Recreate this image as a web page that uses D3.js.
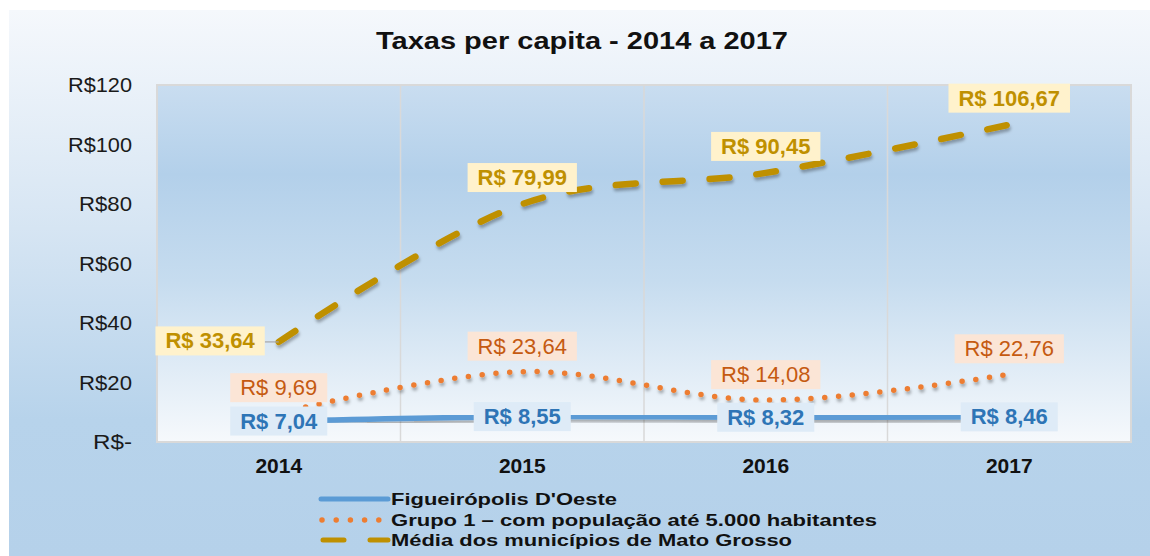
<!DOCTYPE html>
<html>
<head>
<meta charset="utf-8">
<script src="https://cdn.jsdelivr.net/npm/d3@7"></script>
<style>
  body { margin: 0; background: #fff; }
  svg { display: block; font-family: "Liberation Sans", Arial, sans-serif; }
</style>
</head>
<body>
<div id="chart"></div>
<script>
const years = ["2014", "2015", "2016", "2017"];
const figueiropolis = [7.04, 8.55, 8.32, 8.46];
const grupo1 = [9.69, 23.64, 14.08, 22.76];
const mediaMT = [33.64, 79.99, 90.45, 106.67];
const yTicks = [0, 20, 40, 60, 80, 100, 120];
const legendNames = [
  "Figueirópolis D'Oeste",
  "Grupo 1 – com população até 5.000 habitantes",
  "Média dos municípios de Mato Grosso",
];

const w = 1150;
const h = 556;
const plot = { left: 157, right: 1131, top: 85, bottom: 442 };

const svg = d3.select("#chart").append("svg").attr("width", w).attr("height", h);
const defs = svg.append("defs");

const bgGrad = defs.append("linearGradient").attr("id", "bg").attr("x1", 0).attr("y1", 0).attr("x2", 0).attr("y2", 1);
bgGrad.append("stop").attr("offset", "0%").attr("stop-color", "#f5f8fc");
bgGrad.append("stop").attr("offset", "40%").attr("stop-color", "#d6e5f3");
bgGrad.append("stop").attr("offset", "75%").attr("stop-color", "#b7d3eb");
bgGrad.append("stop").attr("offset", "100%").attr("stop-color", "#b5d1ea");

const plotGrad = defs.append("linearGradient").attr("id", "plotbg").attr("x1", 0).attr("y1", 0).attr("x2", 0).attr("y2", 1);
plotGrad.append("stop").attr("offset", "0%").attr("stop-color", "#c9ddf0");
plotGrad.append("stop").attr("offset", "25%").attr("stop-color", "#b3d0ea");
plotGrad.append("stop").attr("offset", "55%").attr("stop-color", "#c6dcef");
plotGrad.append("stop").attr("offset", "100%").attr("stop-color", "#f6f9fc");

const shadow = defs.append("filter").attr("id", "shadow").attr("x", "-5%").attr("y", "-20%").attr("width", "110%").attr("height", "160%");
shadow.append("feDropShadow").attr("dx", 1).attr("dy", 3).attr("stdDeviation", 1.5)
  .attr("flood-color", "#000").attr("flood-opacity", 0.3);

// backgrounds
svg.append("rect").attr("x", 9).attr("y", 10).attr("width", w - 9).attr("height", h - 10).attr("fill", "url(#bg)");
svg.append("rect")
  .attr("x", plot.left).attr("y", plot.top)
  .attr("width", plot.right - plot.left).attr("height", plot.bottom - plot.top)
  .attr("fill", "url(#plotbg)").attr("stroke", "#d9d9d9").attr("stroke-width", 2);

// title
svg.append("text")
  .attr("x", 582).attr("y", 49)
  .attr("text-anchor", "middle")
  .attr("font-size", 23).attr("font-weight", "bold")
  .attr("textLength", 412).attr("lengthAdjust", "spacingAndGlyphs")
  .attr("fill", "#111")
  .text("Taxas per capita - 2014 a 2017");

const x = d3.scaleBand().domain(years).range([plot.left, plot.right]);
const y = d3.scaleLinear().domain([0, 120]).range([plot.bottom, plot.top]);
const cx = (d, i) => x(years[i]) + x.bandwidth() / 2;

// vertical grid lines between categories
svg.append("g")
  .selectAll("line")
  .data(years.slice(1))
  .enter()
  .append("line")
  .attr("x1", (d) => x(d)).attr("x2", (d) => x(d))
  .attr("y1", plot.top).attr("y2", plot.bottom)
  .attr("stroke", "#d9d9d9").attr("stroke-width", 1.5);

// axes
const yAxis = d3.axisLeft(y).tickValues(yTicks).tickSize(0).tickPadding(0)
  .tickFormat((d) => (d === 0 ? "R$-" : "R$" + d));
const gy = svg.append("g").attr("transform", "translate(132,0)").call(yAxis);
gy.select(".domain").remove();
gy.selectAll("text").attr("font-size", 21).attr("fill", "#1a1a1a")
  .attr("font-family", "Liberation Sans, Arial, sans-serif")
  .attr("textLength", (d) => (d === 0 ? 39 : d >= 100 ? 64 : 53)).attr("lengthAdjust", "spacingAndGlyphs");

const xAxis = d3.axisBottom(x).tickSize(0).tickPadding(0);
const gx = svg.append("g").attr("transform", "translate(0," + plot.bottom + ")").call(xAxis);
gx.select(".domain").remove();
gx.selectAll("text").attr("font-size", 21).attr("font-weight", "bold").attr("fill", "#111")
  .attr("dy", null).attr("y", 31).attr("font-family", "Liberation Sans, Arial, sans-serif");

// lines
const line = d3.line().x(cx).y((d) => y(d)).curve(d3.curveCardinal.tension(0));

const series = [
  { name: legendNames[0], values: figueiropolis, color: "#5b9bd5", width: 5.5, dash: null, cap: "butt" },
  { name: legendNames[1], values: grupo1, color: "#ed7d31", width: 5.5, dash: "0,13.8", cap: "round" },
  { name: legendNames[2], values: mediaMT, color: "#bf9000", width: 6.5, dash: "20,27", cap: "round" },
];

const lineLayer = svg.append("g");
const leaderLayer = svg.append("g");
const labelLayer = svg.append("g");

series.forEach((s) => {
  lineLayer.append("path")
    .datum(s.values)
    .attr("d", line)
    .attr("fill", "none")
    .attr("stroke", s.color)
    .attr("stroke-width", s.width)
    .attr("stroke-linecap", s.cap)
    .attr("stroke-dasharray", s.dash)
    .attr("filter", "url(#shadow)");
});

// data labels
const fmt = (v) => "R$ " + v.toFixed(2).replace(".", ",");
const labelStyles = [
  { values: figueiropolis, text: "#2e75b6", bg: "#deebf7", bold: true, place: "center" },
  { values: grupo1, text: "#c55a11", bg: "#fbe5d6", bold: false, place: "above" },
  { values: mediaMT, text: "#bf9000", bg: "#fff2cc", bold: true, place: "above" },
];

labelStyles.forEach((ls, si) => {
  ls.values.forEach((v, i) => {
    const px = cx(v, i);
    const py = y(v);
    const g = labelLayer.append("g");
    const rect = g.append("rect").attr("fill", ls.bg);
    const t = g.append("text")
      .attr("font-size", 22)
      .attr("font-weight", ls.bold ? "bold" : "normal")
      .attr("fill", ls.text)
      .attr("text-anchor", "middle")
      .text(fmt(v));
    const tw = t.node().getComputedTextLength();
    const bw = tw + 20;
    const bh = 29;
    let bx = px - bw / 2;
    let by;
    if (ls.place === "center") by = py - bh / 2;
    else by = py - (si === 2 ? 12 : 11) - bh;
    // first point of the state average sits to the left with a leader line
    if (si === 2 && i === 0) {
      bx = px - 14 - bw;
      by = py - bh / 2 - 1;
      leaderLayer.append("line")
        .attr("x1", bx + bw).attr("x2", px).attr("y1", py).attr("y2", py)
        .attr("stroke", "#a6a6a6").attr("stroke-width", 1.2);
    }
    rect.attr("x", bx).attr("y", by).attr("width", bw).attr("height", bh);
    t.attr("x", bx + bw / 2).attr("y", by + 22);
  });
});

// legend
const legendWidths = [226, 486, 401];
const legendY = [499, 520, 540];
series.forEach((s, i) => {
  const g = svg.append("g").attr("transform", "translate(0," + legendY[i] + ")");
  if (i === 0) {
    g.append("line").attr("x1", 321).attr("x2", 388).attr("y1", 0).attr("y2", 0)
      .attr("stroke", s.color).attr("stroke-width", 5).attr("stroke-linecap", "round");
  } else if (i === 1) {
    g.append("line").attr("x1", 322).attr("x2", 380).attr("y1", 0).attr("y2", 0)
      .attr("stroke", s.color).attr("stroke-width", 5.5).attr("stroke-linecap", "round")
      .attr("stroke-dasharray", "0,14.2");
  } else {
    g.append("line").attr("x1", 323).attr("x2", 388).attr("y1", 0).attr("y2", 0)
      .attr("stroke", s.color).attr("stroke-width", 5).attr("stroke-linecap", "round")
      .attr("stroke-dasharray", "21,26");
  }
  g.append("text")
    .attr("x", 391).attr("y", 6)
    .attr("font-size", 17).attr("font-weight", "bold").attr("fill", "#111")
    .attr("textLength", legendWidths[i]).attr("lengthAdjust", "spacingAndGlyphs")
    .text(s.name);
});
</script>
</body>
</html>
